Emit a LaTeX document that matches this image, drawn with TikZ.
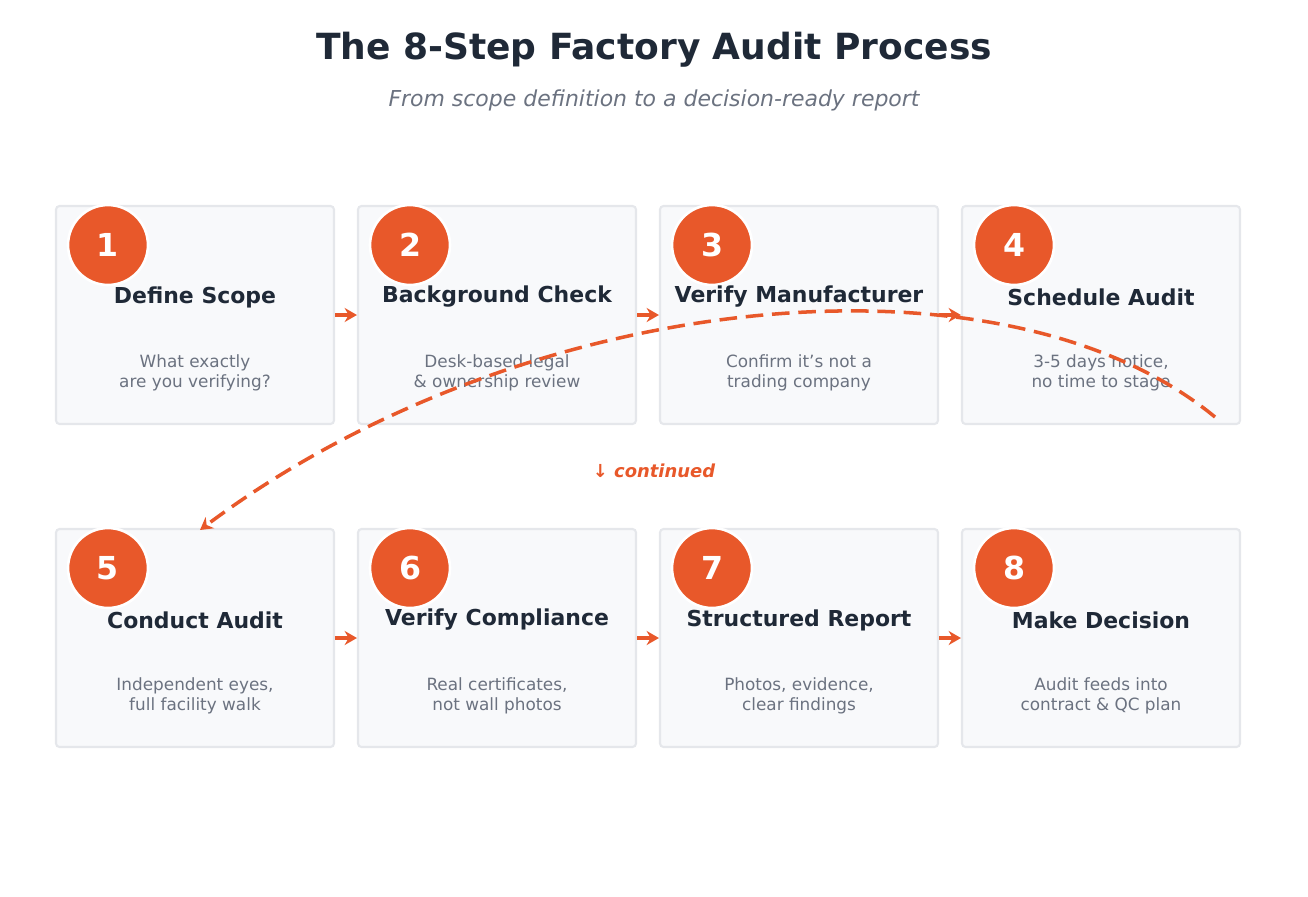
\documentclass[tikz,border=0pt]{standalone}
\usepackage{fontspec}
\setmainfont{DejaVu Sans}
\usetikzlibrary{arrows.meta}
\definecolor{brand}{HTML}{E8582A}
\definecolor{ink}{HTML}{1F2937}
\definecolor{muted}{HTML}{6B7280}
\definecolor{boxfill}{HTML}{F8F9FB}
\definecolor{boxline}{HTML}{E5E7EB}
\begin{document}
\begin{tikzpicture}[x=0.02cm,y=-0.02cm,
  step box/.style={draw=boxline,line width=1.2pt,fill=boxfill,rounded corners=2pt,minimum width=278*0.02cm,minimum height=218*0.02cm,inner sep=0pt},
  badge/.style={circle,fill=brand,draw=white,line width=1.5pt,minimum size=80*0.02cm,text=white,font=\fontsize{18}{20}\selectfont\bfseries},
  step title/.style={text=ink,font=\fontsize{12.5}{14}\selectfont\bfseries},
  step text/.style={text=muted,font=\fontsize{9.6}{11.5}\selectfont,align=center},
  flow/.style={-{Stealth[length=7pt,width=8pt]},brand,line width=2.2pt}]

  \useasboundingbox (0,0) rectangle (1308,896);
  \node[text=ink,font=\fontsize{20.5}{24}\selectfont\bfseries] (title) at (654,50) {The 8-Step Factory Audit Process};
  \node[text=muted,font=\fontsize{12.5}{15}\selectfont\itshape] (subtitle) at (654,100) {From scope definition to a decision-ready report};

  \foreach \n/\x/\y/\t/\d in {
    1/195/315/Define Scope/{What exactly\\are you verifying?},
    2/497/315/Background Check/{Desk-based legal\\\& ownership review},
    3/799/315/Verify Manufacturer/{Confirm it's not a\\trading company},
    4/1101/315/Schedule Audit/{3-5 days notice,\\no time to stage},
    5/195/638/Conduct Audit/{Independent eyes,\\full facility walk},
    6/497/638/Verify Compliance/{Real certificates,\\not wall photos},
    7/799/638/Structured Report/{Photos, evidence,\\clear findings},
    8/1101/638/Make Decision/{Audit feeds into\\contract \& QC plan}} {
    \node[step box] (box\n) at (\x,\y) {};
    \node[badge] (num\n) at (\x-87,\y-70) {\n};
    \node[step title] (head\n) at (\x,\y-18) {\t};
    \node[step text] (desc\n) at (\x,\y+58) {\d};
  }

  \foreach \a/\b in {1/2,2/3,3/4,5/6,6/7,7/8}
    \draw[flow] (box\a.east) -- (box\b.west);

  \coordinate (wrapstart) at (1215,417);
  \coordinate (wrapend) at (200,530);
  \draw[flow,dash pattern=on 10pt off 5pt,line width=2pt]
    (wrapstart) .. controls (1000,240) and (520,290) .. (wrapend);
  \node[text=brand,font=\fontsize{10.2}{12}\selectfont\bfseries\itshape] (cont) at (654,471) {↓ continued};
\end{tikzpicture}
\end{document}
